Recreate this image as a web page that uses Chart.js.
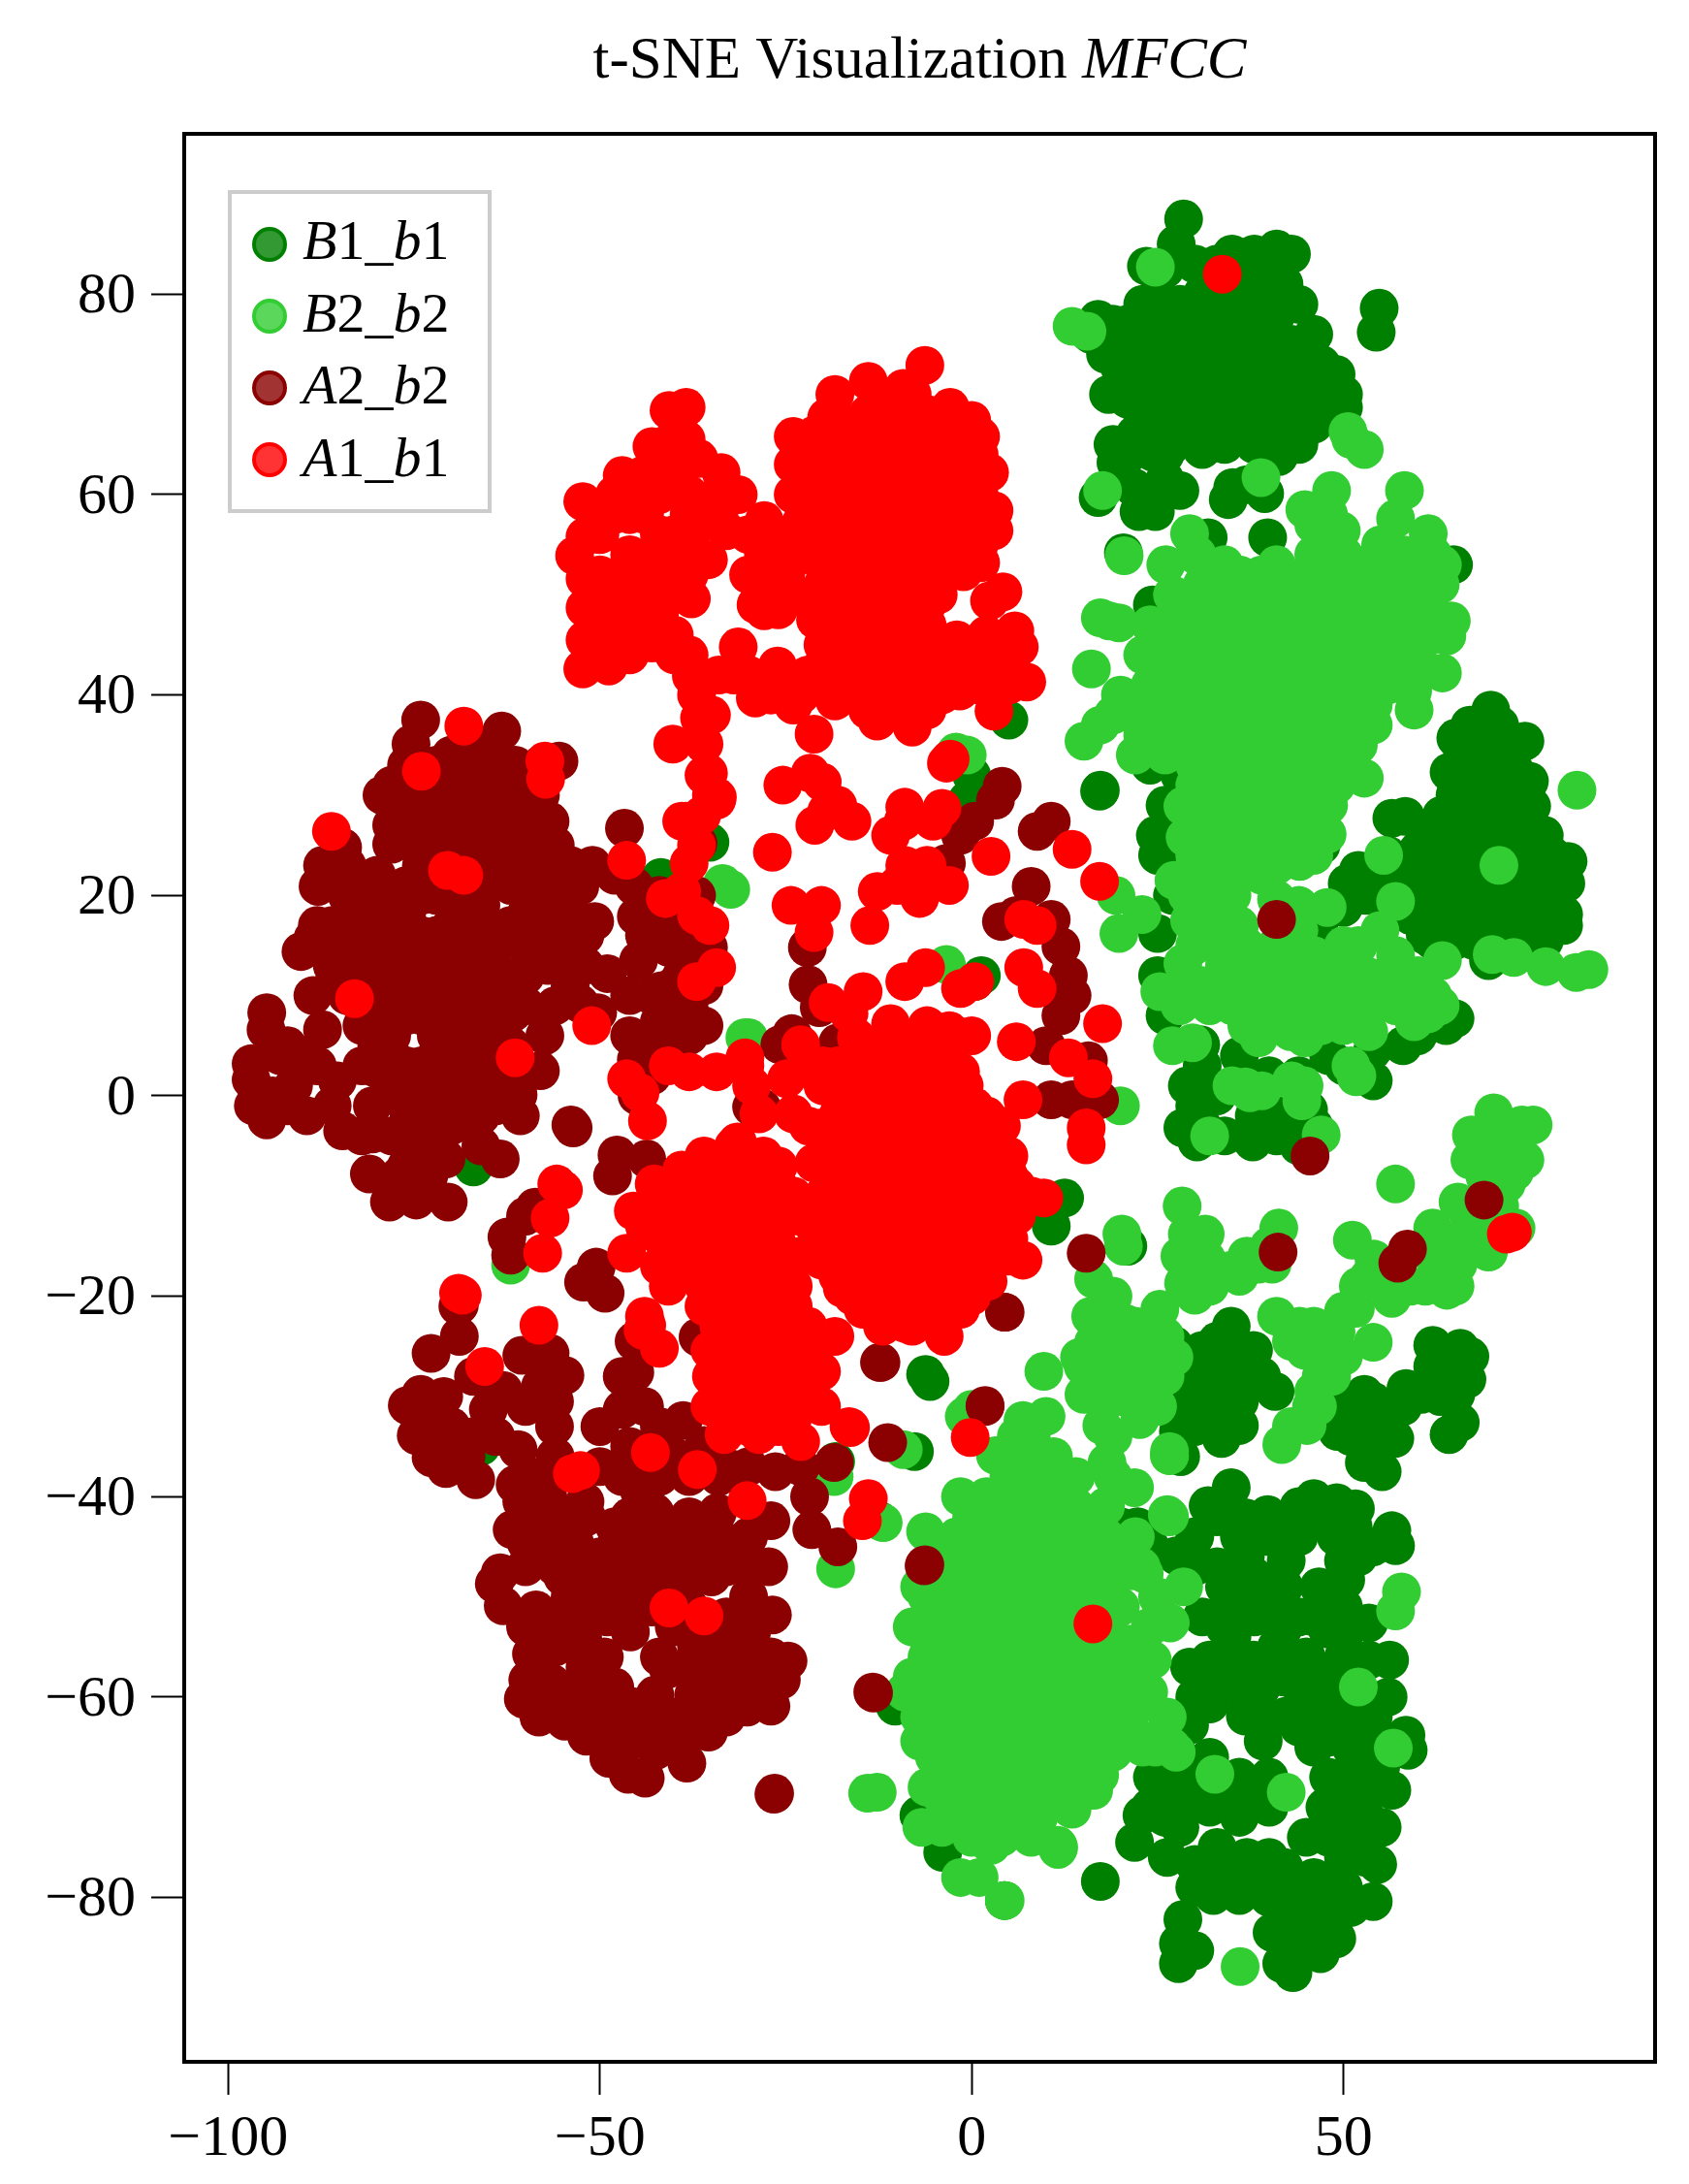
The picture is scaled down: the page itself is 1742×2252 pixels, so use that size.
<!DOCTYPE html>
<html><head><meta charset="utf-8">
<style>html,body{margin:0;padding:0;background:#fff}canvas{display:block}</style>
<script src="https://cdn.jsdelivr.net/npm/chart.js@4/dist/chart.umd.min.js"></script>
</head><body><canvas id="c" width="1742" height="2252"></canvas>
<script>
const xTickValues=[-100,-50,0,50];
const yTickValues=[-80,-60,-40,-20,0,20,40,60,80];
const titleParts=[["t-SNE Visualization ",false],["MFCC",true]];
const legendLabels=[[["B",1],["1_",0],["b",1],["1",0]],[["B",1],["2_",0],["b",1],["2",0]],[["A",1],["2_",0],["b",1],["2",0]],[["A",1],["1_",0],["b",1],["1",0]]];
const B1_b1=[[28.5,87.5],[27.5,85],[26,82.5],[23.5,82.8],[30,83],[35,84],[38,84],[41,84.5],[43,84],[42,81],[40,82],[36,82],[33,81.5],[31,80],[28,79],[25,80],[23,79],[26,77],[29,76],[32,78],[35,79],[38,79],[41,78],[44,79],[46,76],[43,75],[40,75],[37,75],[34,75],[31,74],[28,73],[25,74],[22,75],[19,77],[17,77.5],[16,76],[18,74],[20,72.5],[23,71],[26,70],[29,70],[32,71],[35,71],[38,72],[41,72],[44,71],[47,73],[49,72],[50,70],[47,69],[44,68],[41,68],[38,68],[35,68],[32,67],[29,67],[26,67],[23,68],[21,69.5],[18.4,70],[50,68.7],[54.8,78.6],[54.4,76.2],[19,65],[19.4,63.2],[17,59.7],[21.8,60.7],[22.5,58.3],[24.7,58.3],[28,60.4],[26,61.5],[24.4,64.2],[31,64.5],[34,65],[38,65],[41.3,63.8],[44,65],[35.1,60.7],[34.5,59.5],[39.4,60.1],[37,61],[20.4,54.2],[31.8,55.7],[39.8,55.7],[64.8,53],[24.3,49],[33,52],
[33,83],[37,81],[39,80.5],[42,79],[37,77],[33,77],[29,78],[24,77],[21,77],[27,74.5],[30,72],[33,73],[36,73],[39,73.5],[42,73.5],[45,73],[24,72.5],[21,74],[27,71.5],[36,69.5],[39,70],[42,70],[46,71],[31,69],[34,69],[28,68],[24,69.5],[30,65.5],[33,66],[36,66],[40,66],[43,66.5],[46,67],[27,65],[48,71],[24,66],[22,66],[21,64],[26,64],
[69.8,38.5],[65.1,35.7],[69,35],[72,35.5],[74.4,35.4],[64.2,32.3],[67,33],[70,32],[73,32.5],[75,31.4],[63.2,28],[66,29],[69,28.5],[72,29],[75.3,28.9],[60,24.5],[63,25],[66,25.5],[69,25],[72,25.5],[75,25.5],[78,24],[55,22],[58,22.5],[61,21.5],[64,22],[67,21.5],[70,22],[73,21],[76,22],[79.9,21.2],[80.2,23.4],[50,18.8],[53,20],[56,19],[60.4,18.1],[63.9,17.2],[67,18],[70,18],[73,18.5],[76,18],[79.6,18.1],[79.6,17],[69.5,13.5],[67.5,15.5],[74,16],[56.5,27.7],[58.3,27.9],[50.5,21.2],[53.3,21.4],
[67,37],[71,37],[66,34],[69,33.5],[72,34],[65,30],[68,30.5],[71,30.5],[74,30],[62,26.5],[65,27],[68,27],[71,27],[74,27],[77,26],[56,24],[60,23],[63,23.5],[66,23.5],[69,23.5],[72,23.5],[75,23.5],[78,22],[52,22.5],[55,20],[58,20],[62,19.5],[65,19.5],[68,20],[71,20],[74,20],[77,20],[65,15.5],[62,15.5],[72,15],[77,15.5],[59,18],[61,16],
[17.3,30.5],[28.7,27.7],[26,29],[24.7,26],[25,24],[27,20],[25,16.2],[25,12],[46.7,17],[47,25],[24,33],[28,32],[63.8,7],[65,7.7],[53.9,4.5],[30.8,5.1],[31,3],[40,2],[29,1],[44,2],[36,4],[50,3],[54,1.5],[33,0],[42,-2],[38,-2],[31,-3],[29.9,-3.9],[37.4,-4.2],[34,-4],[45.3,-1.4],[46,-3],[41,-4],[44,-5],[30,-1],[48,4],[26,8],[58,5],[60,6],[28.4,-3.2],[30.3,-4.6],[37.8,-4.6],
[34.9,-23],[27.2,-24.9],[31,-25.4],[37.9,-25.4],[40.8,-29.5],[34.3,-28.5],[33.6,-34.2],[36,-32.9],[27.8,-33.5],[28.1,-36],[31,-29],[29,-31],[37,-29],[52.8,-29.8],[49.2,-33.5],[56.9,-34.2],[53,-32],[52.8,-36.6],[55.2,-37.5],[58.4,-29.2],[62,-24.9],[65.7,-25.2],[66.6,-28.3],[65.1,-29.8],[65.7,-32.6],[64.2,-33.8],[60.5,-29.8],[63,-28],
[33,-24.5],[29,-26.5],[33,-27],[36,-27],[39,-28],[30,-28],[32,-31],[34,-31.5],[30,-33],[36,-30.5],[50,-31],[54,-30.5],[51,-34],[54,-35],[56,-31.5],[58,-31],[62,-27],[64,-27.5],[67,-26],[63,-30],
[34.9,-39.1],[31.8,-40.9],[36.8,-42.1],[39.8,-41.8],[42.3,-43],[46,-40.2],[49.1,-40.6],[51.6,-41.2],[51.3,-43],[56.5,-43.4],[57,-44.9],[42.3,-46.4],[50,-46.4],[50.3,-48.3],[46.7,-49],[27.5,-45.9],[33,-47],[36.8,-46],[22.3,-43],[20,-43],[24,-45],[30,-44],[35.5,-50.8],[40,-50],[44,-52],[47.8,-53.2],[53.4,-52.6],[53.4,-56.3],[56.2,-56.3],[32,-56.3],[29.3,-57],[37.9,-56.3],[41,-55],[35,-54],[45,-56],[50,-56],[47.8,-58.1],[44.1,-58.8],[32,-60.7],[29.3,-62.8],[36.8,-61.9],[42.3,-61.9],[46,-61.3],[50,-62.5],[58.4,-63.8],[58.7,-65.3],[46,-65],[39.2,-64.4],[32,-66],[28,-66],[36,-68],[40,-68],[40,-71],[48,-68],[51,-65],[54,-62],[53,-68],[24.3,-68],[28,-70],[32,-71],[36,-72],[47.5,-71],[45,-74],[50,-71],[53,-72],[56.5,-69.3],[55.2,-73],[54.6,-76.7],[54,-80.4],[50,-76],[46,-78],[42,-77],[22.9,-71.8],[21.9,-74.5],[26.3,-76],[30,-76.7],[28,-73],[33,-75],[37,-76],[32.5,-79.8],[36,-79.8],[40,-80],[44,-81],[48,-81],[51,-81],[28.4,-82.2],[27.8,-84.6],[30,-85.3],[27.8,-86.6],[40.4,-83.5],[41.7,-86.6],[43.2,-87.5],[46.9,-85.6],[49.1,-84.1],[45,-84],[17.3,-78.4],[4.4,-80.3],[5,-72],
[33,-42],[36,-44],[40,-44],[44,-44],[44,-41],[48,-42],[49,-44],[52,-46],[54,-45],[30,-47],[34,-49],[38,-48],[42,-49],[31,-52],[34,-53],[38,-52],[42,-53],[46,-52],[50,-51],[50,-54],[34,-57],[31,-59],[35,-59],[39,-59],[42,-58],[48,-60],[52,-60],[30,-60],[39,-62],[44,-63],[48,-64],[53,-64.5],[56,-60],[26,-67],[30,-68],[34,-70],[38,-70],[51,-74],[48,-74],[40,-76],[34,-78],[30,-79],[26,-72],[24,-71],[38,-78],[42,-80],[46,-80],[50,-79],[53,-76],[46,-82],[42,-83],[52,-70],[50,-68],[55,-67],
[5,37.5],[17.2,30.4],[0.4,11.4],[1.3,12],[-6.2,-27.8],[-5.6,-28.5],[-7.7,-35.5],[-12.4,-42.4],[-10.3,-60.9],[-7.1,-71.8],[-3.9,-75.5],[12.5,-10.2],[10.7,-13],[21,-15],[-18.3,-36.5],[-0.6,29.5],[0,32],[-35.2,25.3],[-41.8,21.8],[-66,-35],[-67,-7.1]];
const B2_b2=[[13.5,76.8],[15.5,76.3],[24.7,82.7],[50.6,66.3],[52.8,64.5],[51,65.5],[38.9,61.7],[17.6,60.4],[20.5,53.9],[18.5,47.4],[17.3,47.7],[19.8,47.2],[16.1,42.6],[15.1,35.4],[17.3,37],[58.2,60.4],[48.4,60.4],[44.8,58.5],[49.7,56.4],[57,57.6],[61.4,56.1],[29.3,56.1],[30.3,54],[26.1,53],[63.3,53],[64.5,47.4],[63.9,45.9],[63.3,42.2],[59.5,38.5],[59.3,40.4],[46,57],[48,58],
[30,54],[34,53],[46,54],[50,54],[55,55],[58,54],[62,54],[27,50],[31,51],[35,50.5],[39,52],[43,51],[47,51],[51,51],[55,52],[59,51],[63,51],[24,47],[28,48],[32,47.5],[36,48],[40,49],[44,48],[48,48],[52,48],[56,48],[60,48],[23,44],[27,44.5],[31,44],[35,45],[39,44],[43,45],[47,45],[51,44],[55,45],[59,44],[20,40],[24,41],[28,40],[32,41],[36,40],[40,41],[44,40],[48,41],[52,40],[56,41],[19,38],[23,36],[27,37],[31,36],[35,37],[39,36],[43,37],[47,36],[51,37],[54,37],[22,34],[26,34],[30,33],[34,33],[38,34],[42,33],[46,33],[50,34],[28.4,28.9],[32,29],[36,30],[40,29],[44,30],[48,29],[52.8,31.7],[28.7,25.8],[33,26],[37,26],[41,25],[44,26],[47.8,26.1],[27.2,21.5],[31,23],[35,23],[39,22],[44.1,23.4],[29.3,17.5],[32,19],[35,20],[36,17],[41,19.6],[44,14.4],[47.8,18.8],[44,19],
[32,52],[36,52],[41,53],[45,52],[49,52],[53,53],[57,52],[61,52],[29,49],[33,49],[37,49.5],[41,50],[45,49.5],[49,49.5],[53,50],[57,50],[61,50],[26,46],[30,46],[34,46],[38,46],[42,47],[46,46.5],[50,46],[54,46.5],[58,46],[62,46],[25,42],[29,42],[33,42.5],[37,42],[41,43],[45,42.5],[49,42.5],[53,42],[57,43],[61,42.5],[22,38],[26,39],[30,38.5],[34,38.5],[38,38],[42,39],[46,38.5],[50,38.5],[54,39],[24,35],[28,35],[32,34.5],[36,35],[40,35],[44,35],[48,35],[52,35],[49,31],[30,31],[34,31],[38,32],[42,31],[46,31],[30,27],[35,28],[39,27],[43,28],[46,28],[30,24],[33,24],[37,24],[41,23],[46,24],[29,20],[33,21],[30,15],[33,16],[39,13],[42,12],[46,12],[50,12],[53,9],[43,8],[37,7],[34,11],[37,9],[41,15],[46,14],[50,15],[29,11],[28,9],[44,16.5],
[19.8,16.2],[22.9,18.1],[19.4,20],[25.3,10.4],[28.4,13.2],[31,11],[34,13],[36.8,15],[38,11],[41,10],[44,10],[47,10],[50,10],[53,12],[55,11],[57,14],[60,12],[63.3,13.5],[49,13],[52,15],[54.9,16.5],[57,19.4],[55.4,24],[61.4,8.2],[59.5,7.4],[57,9],[53.4,6.4],[50,7],[47,7],[44.8,5.8],[42.9,6.4],[38.6,5.8],[40,8],[35,9],[32,9],[60,9],[63,9],[62,10],[58,11],[70.9,23],[81.4,30.5],[70,14.1],[72.9,13.8],[77.2,12.9],[81.3,12.3],[83,12.6],[29.7,5.3],[27,5],[36.8,0.9],[35,1],[44.7,1],[43,1.5],[51,3],[51.8,2],[47,-3.9],[44.4,-0.5],[37.4,0.3],[39,0.5],[32,-4],[51.7,1.9],[20,-1],
[70.2,-1.7],[74,-2.9],[75.5,-2.9],[67.2,-3.9],[67,-6.4],[70,-5],[73,-5],[74.4,-6.4],[73,-7.6],[57,-8.8],[71.9,-8.8],[69,-8],[65.4,-10.6],[68,-11],[71,-11],[62,-13.2],[73.2,-13.2],[66.2,-14.4],[69.5,-15.6],[65.4,-16.8],[51.2,-14.4],[54.1,-16.3],[53.4,-18.1],[56.5,-20.2],[59,-19],[63.9,-19.4],[61,-19],[51.6,-21.2],[54,-24.6],[49,-23.6],[44.1,-23],[41,-22],[44.8,-25.4],[47,-25],[50,-26],[48.4,-28],[45.7,-31],[45.1,-32.9],[41.7,-34.8],[43,-33],
[43,-24.5],[46,-23],[50,-21.5],[52,-19],[55,-18],[49,-26],[47,-28],[46,-29.5],[62,-16],[63,-14.5],[67,-12.5],[70,-13],[72,-6],[69,-10],[71,-3],[65,-19],
[28.3,-11],[29,-13.8],[31.4,-13.8],[31.6,-16.3],[28.5,-18.7],[30,-19.9],[25.3,-21.3],[34.9,-17.4],[38.6,-16.8],[41.3,-13.2],[40.4,-16.8],[20.2,-13.8],[20.4,-15],[16.4,-18.3],[20.6,-22.7],[16.4,-24.6],[14.5,-26.1],[27.2,-26.1],[24,-24],[21,-26],[18,-27],[24,-28],[15.1,-29.8],[17.5,-32.9],[20,-30],[22.6,-32.3],[19,-34],[26.6,-35.9],
[33,-18],[36,-18],[30,-15],[28,-16],[37,-16],[40,-15],[32,-19],[18,-24],[22,-23],[26,-24],[18,-30],[22,-30],[25,-31],[15,-27],[20,-27.5],[23,-26],[26,-28],[16,-22],[19,-20],
[9.7,-27.5],[6.9,-32.4],[10,-32],[3.2,-35.9],[7,-36],[11,-36],[14,-38],[-1.5,-40],[2,-40],[6,-40],[10,-40],[14,-41],[18,-41],[-6.2,-43.5],[-2,-44],[2,-44],[6,-44],[10,-44],[14,-45],[18,-44],[-7,-49],[-3,-48],[1,-48],[5,-48],[9,-48],[13,-49],[17,-48],[21,-47],[-8,-53],[-4,-52],[0,-52],[4,-52],[8,-52],[12,-53],[16,-52],[20,-51],[25,-50],[28.5,-49],[-9,-59.5],[-6,-56],[-2,-56],[2,-56],[6,-56],[10,-56],[14,-56],[18,-56],[21,-54.7],[-5,-60],[-1,-60],[3,-60],[7,-60],[11,-60],[15,-60],[19,-60],[23.8,-59.5],[-7,-64.4],[-3,-64],[1,-64],[5,-64],[9,-64],[13,-64],[17,-64],[21,-63],[24.7,-65],[27.5,-65.5],[-6,-69],[-2,-68],[2,-68],[6,-68],[10,-68],[14,-68],[17.2,-67.8],[-6.7,-73],[-3,-72],[1,-72],[5,-72],[9,-72],[13.5,-71.2],[-1.5,-78],[2.6,-74.8],[1,-78],[4.5,-80.3],[11.6,-74.8],[-12.7,-69.5],[-14,-69.6],[26.6,-42],[22.8,-47],[19,-38],[26.6,-35.9],[22,-44],
[6,-34],[8,-34],[5,-38],[9,-38],[12,-38],[0,-42],[4,-42],[8,-42],[12,-42],[16,-43],[20,-45],[-5,-46],[-1,-46],[3,-46],[7,-46],[11,-46],[15,-47],[19,-47],[-6,-50],[-2,-50],[2,-50],[6,-50],[10,-50],[14,-50],[18,-50],[-6,-54],[-2,-54],[2,-54],[6,-54],[10,-54],[14,-54],[18,-53.5],[-8,-58],[-4,-58],[0,-58],[4,-58],[8,-58],[12,-58],[16,-58],[20,-58],[-7,-62],[-3,-62],[1,-62],[5,-62],[9,-62],[13,-62],[17,-62],[21,-61],[-5,-66],[-1,-66],[3,-66],[7,-66],[11,-66],[15,-66],[19,-65.5],[23,-65],[-4,-70],[0,-70],[4,-70],[8,-70],[12,-70],[-4,-73],[0,-74],[4,-74],[8,-74],
[26.7,-52.6],[24.3,-56.3],[26.3,-62],[26.9,-65],[21.3,-47.4],[23.2,-47.7],[17.5,-45.2],[21.9,-39.1],[18.2,-36.6],[26.3,-41.8],[16.4,-69.3],[13.3,-71.1],[20,-60.7],[21.3,-61.9],[24.3,-64.4],[18.9,-63.8],[11.7,-75],[24,-53],[22,-58],
[-30.5,5.8],[-32.4,20.6],[-33.5,21.2],[-30,5.8],[-21.4,-12.8],[-62,-16.9],[-3.4,13.1],[-2.1,34.3],[-0.6,34],[-18.5,-38],[-18.3,-47.2],[-11.9,-42.6],[-9.2,-35.3],[0,-31.3],[-1,-32],[36.1,-86.9],[32.7,-67.7],[42.3,-69.5],[56.7,-65.1],[52,-59],[57.8,-49.5],[57,-51.4],[26.6,-35.5],[4.4,-80.3],[11.6,-75.2],[46.5,-31]];
const A2_b2=[[-74.1,37.5],[-63.2,36.4],[-75.4,35.1],[-79.3,30],[-56.7,27.4],[-55.5,33.4],[-61.4,33],[-78,25.1],[-87.3,23],[-87.9,20.9],[-84.6,24.8],[-90.2,14.4],[-88.6,15.7],[-88.6,10],[-94.8,8.3],[-94.9,6.6],[-96.9,3.2],[-96.9,1.6],[-96.6,-1],[-94.8,-2.4],[-89.4,-2],[-85.3,1.5],[-87.3,6.6],[-91.2,1],[-93,4],[-94,0],[-90,4],[-80,2.7],[-80.6,-1],[-84.6,-3.5],[-80.6,-3.8],[-76,-3],[-72,-2.4],[-81,-7.8],[-78.3,-10.6],[-74.7,-10.4],[-70.4,-10.6],[-76,-7],[-70.7,-6.3],[-63.4,-6.3],[-67.3,-2.9],[-60.7,-2],[-61,0.1],[-58,2.5],[-57.4,6],[-61.7,8.3],[-61.4,11.4],[-52.7,9.2],[-50.3,8.3],[-49,12.2],[-54,13.9],[-58.7,15.3],[-50.7,17.4],[-52.7,20.9],[-51,23],[-56,21.8],[-59.3,24.3],[-66,26.5],[-66,15.3],[-64.7,13.5],[-71.3,10.5],
[-72,33],[-68,33],[-64,33],[-60,32],[-76,29],[-72,29],[-68,29],[-64,29],[-60,29],[-74,25],[-70,26],[-62,26],[-84,20],[-80,22],[-76,21],[-72,20],[-66,21],[-62,21],[-58,20],[-54,18],[-86,17],[-82,17],[-78,17],[-74,16],[-70,17],[-66,18],[-62,17],[-58,17],[-86,13],[-82,13],[-78,12],[-74,13],[-70,14],[-60,12],[-84,10],[-80,9],[-76,8],[-72,6],[-68,8],[-64,8],[-76,3],[-72,2],[-68,4],[-64,3],[-76,-1],[-68,-1],[-64,-1],
[-74,31],[-70,31],[-66,31],[-62,31],[-78,27],[-74,27],[-70,28],[-66,28],[-62,28],[-58,26],[-84,23],[-82,20],[-78,19],[-74,23],[-70,23],[-66,24],[-62,23],[-58,23],[-54,23],[-55,20],[-84,16],[-80,15],[-76,15],[-72,16],[-68,15],[-64,15],[-60,15],[-56,16],[-52,16],[-86,11],[-82,11],[-78,10],[-74,10],[-68,12],[-64,11],[-60,9],[-56,9],[-54,11],[-72,12],[-82,7],[-78,6],[-70,4],[-66,6],[-62,5],[-92,5],[-88,3],[-92,-1],[-78,1],[-74,0],[-70,0],[-66,1],[-62,2],[-78,-4],[-74,-5],[-70,-3],[-66,-5],[-77,-8],[-73,-8],
[-80,11],[-76,11],[-70,10],[-66,10],[-63,12],[-74,8],[-70,7],[-66,3],[-72,4],[-78,4],[-74,3],[-70,1],[-82,3],[-82,-4],[-86,-1],[-66,-2],[-63,1],[-80,5],[-88,17],[-82,15],[-78,14.5],[-72,14],[-85,15],[-80,19],[-76,18],[-74,20],[-70,20],[-66,19],[-64,23],[-60,25],[-56,25],[-52,13],[-57,13],[-60,18],[-56,19],[-68,35],[-66,35],[-70,34],[-58,30],[-58,33],[-76,33],[-78,31],
[-45.4,20.9],[-45.1,17.9],[-44.8,13.5],[-41.7,10.5],[-38,8.8],[-42,7.4],[-41.7,5.3],[-45.1,3.6],[-35.4,14.8],[-36.8,25.2],[-40.7,14.8],[-46.7,26.7],[-40,18],[-37,20],[-36,11],[-39,12],[-53.6,-3.2],[-46,10],[-48,22],[-42,20],[-42,17],[-44,16],[-40,11],[-37,15],[-41,8],[-38,6],[-43,10],[-43,2],[-45,0],[-40,4],[-46,6],[-36,7],
[-22.1,14.8],[-22,11.1],[-20.5,8.8],[-24.2,6.2],[-18,5.3],[-28.2,-1.2],[-47.7,-5.9],[-43.7,-6.3],[-48.3,-8],[-58.7,-11.1],[-62.5,-14.1],[-62,-15.9],[-60,-12],[-50.5,-17.1],[-49.3,-19.7],[-52.2,-18.6],[-69.1,-21],[-43.5,-24.3],[-45.4,-24.5],[-36.8,-24.1],[-68.9,-20.9],[-68.9,-24],[-72.7,-25.7],[-75.9,-30.9],[-74.1,-29.8],[-74.7,-33.9],[-72.7,-36.1],[-70.7,-37.2],[-66.7,-38.3],[-71,-30],[-70,-33],[-67,-34],[-65,-31.3],[-63,-29.4],[-67,-28],[-60.5,-25.9],[-56.7,-25.7],[-54.7,-27.9],[-56.1,-30.5],[-56.1,-33],[-61,-35.3],[-61.4,-38.8],[-60.5,-40.5],[-61.8,-43.3],[-59.9,-44.6],[-63.4,-47.6],[-64.2,-48.7],[-63,-50.9],[-58.6,-51.3],[-59.2,-55.7],[-59.7,-58.3],[-60.3,-60.2],[-58.2,-62],[-56.5,-58.6],[-54.7,-62.4],[-51.8,-63.9],[-48.8,-66.1],[-46.2,-67.7],[-43.9,-68.1],[-38.3,-66.6],[-35.4,-63.5],[-30.2,-61],[-27,-60.9],[-25.6,-58.3],[-24.7,-56.4],[-26.8,-51.8],[-27.3,-47],[-32,-45.3],[-27,-42.4],[-21.8,-40],[-21.5,-43.3],[-18,-45],[-11.3,-34.6],[-12.2,-26.6],[4.4,-21.6],[1.8,-31],[-6.3,-46.8],[-13.2,-59.6],[-26.5,-69.6],
[-45.3,-27.6],[-47,-31.3],[-38.8,-32.4],[-36,-34.9],[-32.5,-37.2],[-26.4,-37.5],[-18.5,-36.6],[-34.2,-41.6],[-42.6,-41.6],[-44.7,-39.4],[-46,-35],[-50,-33],[-50,-37],[-56,-36],[-52,-40.5],[-57,-40],[-51.8,-42],[-53.4,-44.6],[-57,-44],[-48.2,-45.3],[-43.6,-45.3],[-38,-46],[-46,-42],[-38,-42],[-55,-48],[-50,-49],[-45,-49],[-40,-49],[-35,-48],[-30,-47],[-56.5,-52],[-51.1,-52],[-45.9,-53.5],[-52.3,-54.2],[-49.4,-56],[-51.2,-58.3],[-40.8,-57.2],[-36,-55.7],[-32,-57.2],[-27.9,-56],[-29.6,-53.5],[-42.6,-59.8],[-37.4,-59.8],[-45.9,-60.9],[-50.6,-60.9],[-41.2,-62.7],[-46.5,-64.6],[-42.4,-65.3],[-40,-53],[-33,-52],[-32,-60],[-36,-52],
[-73,-32],[-71,-35],[-68,-36],[-64,-34],[-60,-31],[-58,-29],[-58,-38],[-58,-42],[-55,-42],[-60,-47],[-56,-47],[-52,-47],[-48,-48],[-44,-47],[-40,-46],[-36,-45],[-33,-47],[-30,-44],[-30,-50],[-48,-43],[-42,-38],[-40,-36],[-38,-38],[-34,-38],[-30,-37],[-23,-37],[-44,-31],[-47,-28],[-42,-33],[-44,-36],[-47,-38],[-60,-53],[-56,-55],[-47,-51],[-43,-51],[-38,-51],[-33,-55],[-48,-59],[-42,-56],[-38,-57],[-34,-60],[-29,-58],[-40,-62],[-37,-63],[-44,-63],[-49,-63],[-54,-60],[-58,-60],[-40,-65],[-33,-62],[-55,-53],[-27,-56],
[-52,-50],[-49,-52],[-52,-57],[-46,-51],[-54,-50],[-50,-46],[-46,-46],[-42,-47],[-38,-48],[-34,-44],[-44,-43],[-40,-43],[-36,-43],[-53,-46],[-36,-58],[-32,-55],[-30,-55.5],[-37,-55],[-35,-61],
[8.8,26.4],[10.7,27.4],[0.4,27.4],[3.2,29.5],[4.1,30.9],[-1.5,26],[-3.4,23.2],[8,20.9],[10.7,17.6],[12,14.9],[13.5,10],[17.2,-0.4],[13.5,-0.4],[10.7,-0.4],[15.7,3.5],[10,5],[12,8],[13,12],[4,17.4],[6,18],[4.5,-21.6],[15.4,-15.7],[-12.4,-26.6],[1.8,-30.9],[-6.4,-46.9],[-13.3,-59.5],[-26.6,-69.7],[41,17.6],[45.5,-6],[41.2,-15.6],[68.9,-10.4],[58.6,-15.3],[57.3,-16.7],[-53.9,-2.9],[-25.8,5.1],[-24,6],[-29.6,-1.1],[-28.6,52.4],[-8,2.4]];
const A1_b1=[[-40.7,68.4],[-38.4,68.7],[-43,64.8],[-38.4,65.5],[-36.7,63.6],[-33.7,62.2],[-31.4,60],[-47,61.9],[-52.3,59.3],[-52,55.8],[-53.4,53.9],[-52,51.6],[-52,48.7],[-52,45.5],[-52.3,42.6],[-48.8,42.9],[-43,45.2],[-37.7,49.6],[-35.4,53.5],[-37.7,56.1],[-44,58],[-48,58],[-46,54],[-42,54],[-48,50],[-44,50],[-48,46],[-45,46],[-42,60],[-38,60],[-44,62],[-40,50],[-40,46],[-40,56],
[-50,56],[-50,52],[-50,48],[-50,44],[-46,44],[-46,48],[-46,52],[-42,48],[-42,52],[-42,56],[-46,58],[-38,52],[-38,54],[-38,58],[-34,58],[-34,60],[-44,60],[-40,62],[-41,65],[-48,60],[-40,44],
[-27.9,57.4],[-33,56.4],[-23,57.1],[-37.7,41.9],[-36.6,37.7],[-40.2,35.1],[-36,35.1],[-35,38],[-35.4,32.2],[-34.2,29.8],[-38.4,27.4],[-36.3,28],[-27.9,48.4],[-28,54],[-25,52],[-30,52],[-27,50.5],[-31.4,44.8],[-29.1,39.7],[-26.1,42.9],[-21.2,36.1],[-25.4,31],[-21.7,32.2],[-20.1,31.3],[-19.5,28.4],[-16.1,27.4],[-21.1,27],[-9.2,27.4],[-4,28.7],[-2.9,33.6],[-3.4,33.2],[-26.8,24.3],[-18,29],
[-30,56],[-26,56],[-24,54],[-29,49],[-26,48.5],[-32,42],[-34,42],[-30,42],[-27,40],[-24,39],[-22,42],[-38,44],[-37,40],[-36,32],[-35,30],[-37,25],[-22,64],[-22,60],[-24,63],[-20,58],[-23,57],[-24,60],[-21,66],
[-6.3,72.9],[-13.9,71.3],[-18.4,70],[-9.2,70.6],[-2.9,68.7],[0,67.4],[1.2,65.8],[2.4,62.2],[-24,65.8],[-19.5,67.7],[-20.1,61],[3,58.4],[3,56.4],[1.2,53.2],[-1.1,52.3],[4.2,50.3],[2.4,49.4],[5.8,46.4],[6.4,44.8],[7.4,41.3],[3,38.4],[-1.6,40.4],[-8,36.8],[-12.7,37.4],[-18.4,39.4],[-23,40],[-14,68],[-10,68],[-6,68],[-17,65],[-13,65],[-9,65],[-5,65],[-2,65],[-16,62],[-12,62],[-8,62],[-4,62],[0,62],[-18,58],[-14,59],[-10,58],[-6,58],[-2,59],[-22,54],[-18,55],[-14,54],[-10,55],[-6,54],[-2,55],[1,55],[-24,50],[-20,51],[-16,51],[-12,50],[-8,51],[-4.5,50],[-21,47.5],[-18,47],[-14,47],[-10,46],[-6,47],[-2,45.5],[2,46],[-20,43],[-16,43],[-12,43],[-8,42],[-4,43],[0,43],[3,42],[-16,40],[-12,40],[-8,40],[-4,40],
[-12,69],[-8,70],[-16,67],[-12,67],[-8,67],[-4,67],[-20,64],[-15,63.5],[-11,63.5],[-7,64],[-3,63.5],[1,64],[-18,60],[-14,61],[-10,60],[-6,60],[-2,61],[1,60],[-20,56],[-16,57],[-12,56.5],[-8,56],[-4,56.5],[0,57],[-20,53],[-16,53],[-12,52.5],[-8,53],[-4,52.5],[-1,54],[-22,49.5],[-18,49],[-14,49],[-10,48.5],[-6,49],[-20,45],[-16,45],[-12,45],[-8,44.5],[-4,45],[0,45],[4,44],[-18,41],[-14,41.5],[-10,41],[-6,41.5],[-2,42],[1,41],[5,41],[-14,38.5],[-10,38.5],[-6,38.5],[-20,41],
[-9,28.8],[-10.9,26],[-5.2,27.4],[2.6,23.9],[-9,23],[-12.7,20.4],[-7,19.7],[-13.7,17],[-10,21],[-6,23],[-3,21],[13.5,24.6],[17.2,21.4],[-24.3,19],[-20.2,19],[-21.2,16.3],[7,17.6],[8.8,17],[7,12.8],[8.8,10.7],[17.6,7.2],[6,5.4],[13,3.8],[16.3,1.7],[15.4,-3.2],[15.4,-4.9],[-19.3,9.3],[-14.6,10.4],[-16.5,8.2],[-9,11.4],[-6.2,12.8],[-1.5,10.7],[0.4,11.4],[-6,7],[-2,6],[-3,6.5],[0,6],
[-39,20.4],[-41.2,19.7],[-35.2,17],[-34.3,12.8],[-37,11.4],[-46.4,23.5],[-38,23.2],[-39,27.4],[-34.3,29.5],[-37,18],[-40.8,3],[-46.4,1.7],[-44.6,0.3],[-43.6,-2.5],[-38,2.4],[-34.3,2.4],[-30.5,3.8],[-29.6,1],[-55.8,-8.8],[-54.9,-9.4],[-56.7,-12.2],[-57.7,-15.7],[-45.5,-11.5],[-68.5,-19.9],[-65.5,-27],[-58.2,-22.9],[-44,-22],[-44.2,-23.4],[-42,-25.2],[-46.4,-15.7],[-40.8,-19],
[-35.2,-25.4],[-35.2,-31],[-33.3,-33.8],[-28.6,-33.8],[-23,-34.5],[-20.2,-31],[-20.2,-27.5],[-16.5,-33],[-18.4,-24],[-9,-22.7],[-3.7,-24],[-1.5,-21.3],[2.2,-18.5],[6.9,-16.4],[5,-14.3],[9.7,-10.2],[5,-6],[2.2,-5.3],[6.9,-0.4],[0.4,-1.1],[-1.5,2.4],[-7,4.4],[-10.9,7.2],[-15.5,5.8],[-23,5.1],[-24.9,1.7],[-24,-1.8],[-20.2,-3.2],[-21.2,-6.7],[-21.2,-13],[-20.2,-16.4],[-17.4,-19.2],[-14.6,-21.3],[-30.5,3],[-28.6,-1.8],[-31.5,-4.6],[-39,-7.4],[-42.7,-8.8],
[-36,-6],[-32,-5],[-28,-6],[-42,-10],[-38,-9],[-34,-9],[-30,-9],[-26,-9],[-44,-13],[-40,-13],[-36,-13],[-32,-13],[-28,-13],[-24,-12],[-42,-17],[-38,-17],[-34,-17],[-30,-17],[-26,-17],[-23,-16],[-36,-21],[-32,-20],[-28,-21],[-24,-21],[-33,-25],[-29,-25],[-25,-25],[-22,-26],[-34,-29],[-30,-29],[-26,-29],[-22,-29],[-32,-32],[-28,-32],[-24,-32],
[-34,-7],[-30,-7],[-26,-7],[-40,-11],[-36,-11],[-32,-11],[-28,-11],[-24,-10],[-42,-14],[-38,-15],[-34,-15],[-30,-15],[-26,-15],[-40,-18],[-36,-19],[-32,-18],[-28,-19],[-24,-19],[-34,-23],[-30,-23],[-26,-23],[-22,-23],[-32,-27],[-28,-27],[-24,-27],[-21,-24],[-32,-30],[-28,-30],[-24,-30],[-30,-33],[-26,-33],[-35,-28],
[-14,5],[-10,5],[-18,3],[-22,3],[-5,4],[-20,1],[-16,1],[-12,2],[-8,1],[-4,1],[-1,1],[-22,-3],[-18,-2],[-14,-2],[-10,-3],[-6,-2],[-2,-3],[2,-2],[-19,-6],[-15,-6],[-11,-7],[-7,-6],[-3,-6],[1,-7],[5,-8],[-20,-10],[-16,-10],[-12,-10],[-8,-11],[-4,-10],[0,-10],[4,-11],[8,-10],[-20,-14],[-16,-14],[-12,-14],[-8,-14],[-4,-15],[0,-14],[4,-14],[-18,-18],[-14,-18],[-10,-18],[-6,-18],[-2,-18],[2,-18],[-14,-21],[-10,-21],[-6,-22],[-2,-21],
[-12,4],[-8,3],[-16,3],[-20,3],[-4,3],[-18,0],[-14,0],[-10,-1],[-6,0],[-2,-1],[-20,-4],[-16,-4],[-12,-4],[-8,-5],[-4,-4],[0,-5],[4,-3],[-18,-8],[-14,-8],[-10,-9],[-6,-8],[-2,-8],[2,-8],[6,-9],[-18,-12],[-14,-12],[-10,-12],[-6,-13],[-2,-12],[2,-12],[6,-12],[-18,-16],[-14,-16],[-10,-16],[-6,-16],[-2,-16],[2,-16],[5,-16],[-16,-20],[-12,-20],[-8,-20],[-4,-20],[0,-20],[-8,-23],[-12,-23],
[-30.2,-40.4],[-36.9,-37.3],[-43.2,-35.6],[-53.7,-37.7],[-52.6,-37.4],[-40.7,-51.1],[-36,-51.9],[-16.3,-33.1],[-0.2,-34.1],[-69,-19.7],[-43.7,-22.9],[-14.7,-42.4],[-13.9,-40.2],[33.7,82],[16.3,-52.7],[71.9,-13.8],[72.7,-13.6],[-86.1,26.4],[-61.4,3.8],[-51.1,7],[-83,9.7],[-74,32.4],[-68.3,36.9],[-57.4,33.4],[-57.3,31.6],[-70.5,22.5],[-68.3,22]];
const dataSeries=[["B1_b1",B1_b1,"#008000"],["B2_b2",B2_b2,"#32CD32"],["A2_b2",A2_b2,"#8B0000"],["A1_b1",A1_b1,"#FF0000"]];
const SERIF='"Liberation Serif"';
const frame={id:'frame',afterDraw(ch){const a=ch.chartArea,c=ch.ctx;
 c.save();c.strokeStyle='#000';c.lineWidth=4;c.strokeRect(a.left,a.top,a.right-a.left,a.bottom-a.top);
 c.fillStyle='#000';c.textBaseline='alphabetic';c.textAlign='left';
 const TF=61;let w=0;titleParts.forEach(p=>{c.font=(p[1]?'italic ':'')+TF+'px '+SERIF;w+=c.measureText(p[0]).width});
 let x=(a.left+a.right)/2-w/2;
 titleParts.forEach(p=>{c.font=(p[1]?'italic ':'')+TF+'px '+SERIF;c.fillText(p[0],x,80);x+=c.measureText(p[0]).width});
 c.fillStyle='#fff';c.fillRect(237,198,268,329);c.strokeStyle='#ccc';c.lineWidth=4;c.strokeRect(237,198,268,329);
 const cy=[252,326,400,474],by=[267,342,416,491];
 dataSeries.forEach((s,i)=>{c.beginPath();c.arc(278,cy[i],16,0,7);c.globalAlpha=.8;c.fillStyle=s[2];c.fill();c.globalAlpha=1;c.strokeStyle=s[2];c.lineWidth=4;c.stroke();
  let tx=312;c.fillStyle='#000';legendLabels[i].forEach(p=>{c.font=(p[1]?'italic ':'')+'58px '+SERIF;c.fillText(p[0],tx,by[i]);tx+=c.measureText(p[0]).width});});
 c.restore();}};
new Chart(document.getElementById('c'),{type:'scatter',
 data:{datasets:dataSeries.map((s,i)=>({label:s[0],order:3-i,data:s[1].map(p=>({x:p[0],y:p[1]})),backgroundColor:s[2],borderColor:s[2],borderWidth:0,pointRadius:20,pointHoverRadius:20}))},
 plugins:[frame],
 options:{responsive:false,animation:false,events:[],devicePixelRatio:1,
  layout:{padding:{top:138,right:35,left:0,bottom:0}},
  plugins:{legend:{display:false},title:{display:false},tooltip:{enabled:false}},
  scales:{
   x:{type:'linear',min:-105.9,max:91.9,afterBuildTicks(s){s.ticks=xTickValues.map(v=>({value:v}))},afterFit(s){s.height=126},
    grid:{drawOnChartArea:false,drawTicks:true,tickLength:34,tickColor:'#000',tickWidth:2},border:{color:'#000',width:4},
    ticks:{color:'#000',padding:10,maxRotation:0,autoSkip:false,font:{family:SERIF,size:60},callback:v=>String(v).replace('-','\u2212')}},
   y:{type:'linear',min:-96.4,max:96,afterBuildTicks(s){s.ticks=yTickValues.map(v=>({value:v}))},afterFit(s){s.width=190},
    grid:{drawOnChartArea:false,drawTicks:true,tickLength:34,tickColor:'#000',tickWidth:2},border:{color:'#000',width:4},
    ticks:{color:'#000',padding:16,labelOffset:3,autoSkip:false,font:{family:SERIF,size:60},callback:v=>String(v).replace('-','\u2212')}}
  }}});
</script></body></html>
